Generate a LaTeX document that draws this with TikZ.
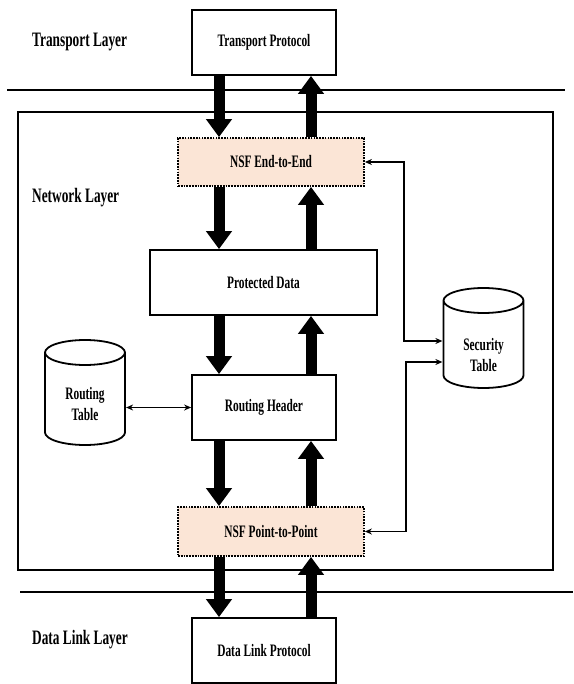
\documentclass[tikz,border=0pt]{standalone}
\usepackage{fontspec}
\newfontfamily\diagfont{Liberation Serif}[FakeStretch=0.65]
\usetikzlibrary{arrows.meta}
\definecolor{nsffill}{HTML}{FBE5D6}

\begin{document}
\begin{tikzpicture}[x=1pt,y=-1pt,
        box/.style={draw,line width=1.8pt,fill=white,inner sep=0pt,
          font=\diagfont\bfseries\fontsize{17.5}{20}\selectfont},
        nsfbox/.style={box,fill=nsffill,dash pattern=on 1.7pt off 1.1pt},
        layer/.style={anchor=west,inner sep=0pt,
          font=\diagfont\bfseries\fontsize{20.5}{23}\selectfont},
        dbtable/.style={inner sep=0pt,minimum width=81.8pt,minimum height=#1,
          path picture={
            \draw [line width=1.8pt]
              ([yshift=-13.4pt]path picture bounding box.north) ellipse [x radius=40pt,y radius=12.5pt]
              ([shift={(-40pt,-13.4pt)}]path picture bounding box.north)
              -- ([shift={(-40pt,13.4pt)}]path picture bounding box.south)
              arc [start angle=180,end angle=360,x radius=40pt,y radius=12.5pt]
              -- ([shift={(40pt,-13.4pt)}]path picture bounding box.north);
          }},
        tabtext/.style={inner sep=0pt,align=center,
          font=\diagfont\bfseries\fontsize{17.5}{21}\selectfont},
        bigarrow/.style={line width=11pt,-{Triangle[width=25pt,length=18pt]}},
        link/.style={line width=1.3pt,{Stealth[length=7pt,width=6pt]}-{Stealth[length=7pt,width=6pt]}},
        layerline/.style={line width=2.4pt}]
        \useasboundingbox (0,0) rectangle (573,684);
        % layer borders
        \draw [layerline] (7,90) -- (565,90);
        \draw [layerline] (20,592) -- (573,592);
        \draw [line width=1.8pt] (18,112) rectangle (553,570);
        % labels
        \node [layer] (tlayer) at (32,42) {Transport Layer};
        \node [layer] (nlayer) at (32,198) {Network Layer};
        \node [layer] (dlayer) at (32,640) {Data Link Layer};
        % boxes
        \node [box,minimum width=144pt,minimum height=65pt] (transport) at (264,42.5) {Transport Protocol};
        \node [nsfbox,minimum width=186pt,minimum height=48pt] (e2e) at (271,162) {NSF End-to-End};
        \node [box,minimum width=227pt,minimum height=65pt] (pdata) at (263.5,282.5) {Protected Data};
        \node [box,minimum width=144pt,minimum height=65pt] (rheader) at (264,407.5) {Routing Header};
        \node [nsfbox,minimum width=186pt,minimum height=49pt] (p2p) at (271,531.5) {NSF Point-to-Point};
        \node [box,minimum width=144pt,minimum height=65pt] (dlink) at (264,650.5) {Data Link Protocol};
        % tables
        \node [dbtable=106.8pt] (rtable) at (85,392.5) {};
        \node [tabtext] (rtabletxt) at (85,404) {Routing\\Table};
        \node [dbtable=101.8pt] (stable) at (483.5,338) {};
        \node [tabtext] (stabletxt) at (483.5,355.5) {Security\\Table};
        % data flow, down on the left, up on the right
        \coordinate (dn) at (219,0);
        \coordinate (up) at (311,0);
        \draw [bigarrow] (dn |- transport.south) -- (dn |- e2e.north);
        \draw [bigarrow] (up |- e2e.north) -- (up |- transport.south);
        \draw [bigarrow] (dn |- e2e.south) -- (dn |- pdata.north);
        \draw [bigarrow] (up |- pdata.north) -- (up |- e2e.south);
        \draw [bigarrow] (dn |- pdata.south) -- (dn |- rheader.north);
        \draw [bigarrow] (up |- rheader.north) -- (up |- pdata.south);
        \draw [bigarrow] (dn |- rheader.south) -- (dn |- p2p.north);
        \draw [bigarrow] (up |- p2p.north) -- (up |- rheader.south);
        \draw [bigarrow] (dn |- p2p.south) -- (dn |- dlink.north);
        \draw [bigarrow] (up |- dlink.north) -- (up |- p2p.south);
        % table lookups
        \coordinate (j1) at (404,341);
        \coordinate (j2) at (406,362);
        \draw [link] (e2e.east) -| (j1) -- (j1 -| stable.west);
        \draw [link] (p2p.east) -| (j2) -- (j2 -| stable.west);
        \draw [link] (rheader.west -| rtable.east) -- (rheader.west);
\end{tikzpicture}
\end{document}
